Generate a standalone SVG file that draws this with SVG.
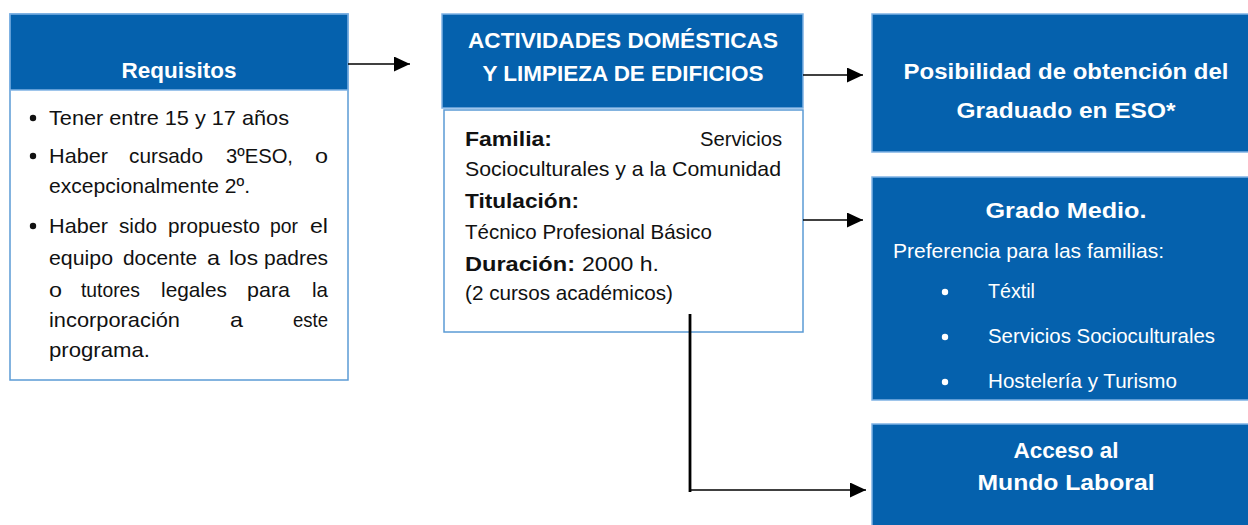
<svg xmlns="http://www.w3.org/2000/svg" width="1248" height="525" viewBox="0 0 1248 525">
<defs>
<style>
.blue{fill:#0561ad;stroke:#7fb2e5;stroke-width:1.5}
.white{fill:#ffffff;stroke:#5b9bd5;stroke-width:1.5}
.hb{font-family:"Liberation Sans",Arial,sans-serif;font-weight:bold;font-size:22px;fill:#ffffff}
.hw{font-family:"Liberation Sans",Arial,sans-serif;font-size:21px;fill:#ffffff}
.t{font-family:"Liberation Sans",Arial,sans-serif;font-size:21px;fill:#111111}
.tb{font-family:"Liberation Sans",Arial,sans-serif;font-weight:bold;font-size:21px;fill:#111111}
.ln{stroke:#000000;stroke-width:1.5;fill:none}
</style>
<marker id="ah" viewBox="0 0 16 15" refX="16" refY="7.5" markerWidth="16" markerHeight="15" markerUnits="userSpaceOnUse" orient="auto">
<path d="M0,0 L16,7.5 L0,15 Z" fill="#000000"/>
</marker>
</defs>

<g id="requisitos">
<rect class="white" x="10" y="14" width="338" height="366"/>
<rect class="blue" x="10" y="14" width="338" height="76"/>
<text class="hb" x="179" y="78" text-anchor="middle" textLength="115" lengthAdjust="spacingAndGlyphs">Requisitos</text>
<circle cx="33" cy="118" r="3.2" fill="#111"/>
<circle cx="33" cy="156" r="3.2" fill="#111"/>
<circle cx="33" cy="226" r="3.2" fill="#111"/>
<text class="t" x="49" y="125" textLength="240" lengthAdjust="spacingAndGlyphs">Tener entre 15 y 17 años</text>
<text class="t" y="163"><tspan x="49" textLength="59" lengthAdjust="spacingAndGlyphs">Haber</tspan><tspan x="129" textLength="74" lengthAdjust="spacingAndGlyphs">cursado</tspan><tspan x="226" textLength="67" lengthAdjust="spacingAndGlyphs">3ºESO,</tspan><tspan x="315" textLength="13" lengthAdjust="spacingAndGlyphs">o</tspan></text>
<text class="t" x="49" y="193" textLength="201" lengthAdjust="spacingAndGlyphs">excepcionalmente 2º.</text>
<text class="t" y="233"><tspan x="49" textLength="59" lengthAdjust="spacingAndGlyphs">Haber</tspan><tspan x="119" textLength="38" lengthAdjust="spacingAndGlyphs">sido</tspan><tspan x="168" textLength="92" lengthAdjust="spacingAndGlyphs">propuesto</tspan><tspan x="270" textLength="28" lengthAdjust="spacingAndGlyphs">por</tspan><tspan x="310" textLength="18" lengthAdjust="spacingAndGlyphs">el</tspan></text>
<text class="t" y="265"><tspan x="49" textLength="64" lengthAdjust="spacingAndGlyphs">equipo</tspan><tspan x="123" textLength="74" lengthAdjust="spacingAndGlyphs">docente</tspan><tspan x="207" textLength="13" lengthAdjust="spacingAndGlyphs">a</tspan><tspan x="229" textLength="29" lengthAdjust="spacingAndGlyphs">los</tspan><tspan x="264" textLength="64" lengthAdjust="spacingAndGlyphs">padres</tspan></text>
<text class="t" y="297"><tspan x="49" textLength="13" lengthAdjust="spacingAndGlyphs">o</tspan><tspan x="81" textLength="59" lengthAdjust="spacingAndGlyphs">tutores</tspan><tspan x="161" textLength="66" lengthAdjust="spacingAndGlyphs">legales</tspan><tspan x="247" textLength="43" lengthAdjust="spacingAndGlyphs">para</tspan><tspan x="312" textLength="16" lengthAdjust="spacingAndGlyphs">la</tspan></text>
<text class="t" y="327"><tspan x="49" textLength="131" lengthAdjust="spacingAndGlyphs">incorporación</tspan><tspan x="230" textLength="13" lengthAdjust="spacingAndGlyphs">a</tspan><tspan x="293" textLength="35" lengthAdjust="spacingAndGlyphs">este</tspan></text>
<text class="t" x="49" y="357" textLength="101" lengthAdjust="spacingAndGlyphs">programa.</text>
</g>

<g id="actividades">
<rect class="blue" x="442" y="14" width="361" height="94"/>
<text class="hb" x="623" y="48" text-anchor="middle" textLength="310" lengthAdjust="spacingAndGlyphs">ACTIVIDADES DOMÉSTICAS</text>
<text class="hb" x="623" y="81" text-anchor="middle" textLength="281" lengthAdjust="spacingAndGlyphs">Y LIMPIEZA DE EDIFICIOS</text>
</g>

<g id="detalle">
<rect class="white" x="444" y="110" width="359" height="222"/>
<text class="tb" x="465" y="146" textLength="87" lengthAdjust="spacingAndGlyphs">Familia:</text>
<text class="t" x="782" y="146" text-anchor="end" textLength="82" lengthAdjust="spacingAndGlyphs">Servicios</text>
<text class="t" x="465" y="176" textLength="316" lengthAdjust="spacingAndGlyphs">Socioculturales y a la Comunidad</text>
<text class="tb" x="465" y="208" textLength="114" lengthAdjust="spacingAndGlyphs">Titulación:</text>
<text class="t" x="465" y="239" textLength="247" lengthAdjust="spacingAndGlyphs">Técnico Profesional Básico</text>
<text class="tb" x="465" y="271" textLength="110" lengthAdjust="spacingAndGlyphs">Duración:</text>
<text class="t" x="582" y="271" textLength="77" lengthAdjust="spacingAndGlyphs">2000 h.</text>
<text class="t" x="465" y="300" textLength="208" lengthAdjust="spacingAndGlyphs">(2 cursos académicos)</text>
</g>

<g id="graduado">
<rect class="blue" x="872" y="14" width="380" height="138"/>
<text class="hb" x="1066" y="79" text-anchor="middle" textLength="325" lengthAdjust="spacingAndGlyphs">Posibilidad de obtención del</text>
<text class="hb" x="1066" y="118" text-anchor="middle" textLength="219" lengthAdjust="spacingAndGlyphs">Graduado en ESO*</text>
</g>

<g id="grado-medio">
<rect class="blue" x="872" y="177" width="380" height="223"/>
<text class="hb" x="1066" y="218" text-anchor="middle" textLength="161" lengthAdjust="spacingAndGlyphs">Grado Medio.</text>
<text class="hw" x="893" y="258" textLength="271" lengthAdjust="spacingAndGlyphs">Preferencia para las familias:</text>
<circle cx="945" cy="292" r="3.2" fill="#fff"/>
<circle cx="945" cy="337" r="3.2" fill="#fff"/>
<circle cx="945" cy="382" r="3.2" fill="#fff"/>
<text class="hw" x="988" y="298" textLength="47" lengthAdjust="spacingAndGlyphs">Téxtil</text>
<text class="hw" x="988" y="343" textLength="227" lengthAdjust="spacingAndGlyphs">Servicios Socioculturales</text>
<text class="hw" x="988" y="388" textLength="189" lengthAdjust="spacingAndGlyphs">Hostelería y Turismo</text>
</g>

<g id="mundo-laboral">
<rect class="blue" x="872" y="424" width="380" height="110"/>
<text class="hb" x="1066" y="458" text-anchor="middle" textLength="105" lengthAdjust="spacingAndGlyphs">Acceso al</text>
<text class="hb" x="1066" y="490" text-anchor="middle" textLength="177" lengthAdjust="spacingAndGlyphs">Mundo Laboral</text>
</g>

<g id="connectors">
<line class="ln" x1="348" y1="64" x2="410" y2="64" marker-end="url(#ah)"/>
<line class="ln" x1="803" y1="75" x2="863" y2="75" marker-end="url(#ah)"/>
<line class="ln" x1="803" y1="220" x2="863" y2="220" marker-end="url(#ah)"/>
<line x1="690" y1="314" x2="690" y2="492" stroke="#000" stroke-width="2.8"/>
<line class="ln" x1="690" y1="490" x2="866" y2="490" marker-end="url(#ah)"/>
</g>
</svg>
